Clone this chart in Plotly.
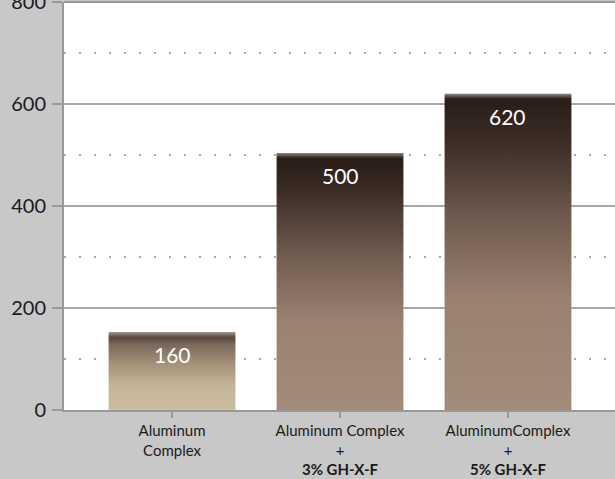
import plotly.graph_objects as go

categories = ["Aluminum<br>Complex",
              "Aluminum Complex<br>+<br><b>3% GH-X-F</b>",
              "AluminumComplex<br>+<br><b>5% GH-X-F</b>"]
values = [153, 504, 620]
labels = ["160", "500", "620"]
y_ticks = [0, 200, 400, 600, 800]

bar_width = 0.755
stripe = 10  # bevel thickness in data units

light_bar = [[0.0, "#cbbd9f"], [0.3, "#c5b699"], [0.6, "#a39179"], [0.85, "#786659"]]
dark_bar = [[0.0, "#a38b7c"], [0.35, "#9a8172"], [0.6, "#705c50"], [0.85, "#3b2c25"]]

fig = go.Figure()
for i, v in enumerate(values):
    base = light_bar if i == 0 else dark_bar
    top = "#5b4a3f" if i == 0 else "#2c1f1a"
    edge = "#a39a94" if i == 0 else "#8e8580"
    f = 1 - stripe / v
    cs = [c for c in base if c[0] < f - 0.02] + [[f - 0.02, top], [f, top], [1.0, edge]]
    x0, x1 = i - bar_width / 2, i + bar_width / 2
    fig.add_trace(go.Scatter(
        x=[x0, x1, x1, x0, x0], y=[0, 0, v, v, 0],
        mode="lines", line=dict(width=0), fill="toself",
        fillgradient=dict(type="vertical", colorscale=cs, start=0, stop=v),
        hoverinfo="skip", showlegend=False))
    fig.add_annotation(x=i, y=v, text=labels[i], showarrow=False,
                       yanchor="top", yshift=-8,
                       font=dict(family="Lato, Open Sans", size=21, color="white"))

fig.update_layout(
    width=615, height=479,
    margin=dict(l=64, r=0, t=2, b=69),
    paper_bgcolor="#c8c8c8", plot_bgcolor="white",
    font=dict(family="Lato, Open Sans", color="#1a1a1a"),
)
fig.update_xaxes(
    range=[-0.643, 2.637], tickvals=[0, 1, 2], ticktext=categories,
    ticks="outside", ticklen=6, tickwidth=2, tickcolor="#999999",
    showline=True, linecolor="#999999", linewidth=2, mirror=False,
    showgrid=False, zeroline=False, automargin=False,
    tickfont=dict(size=15, color="#1a1a1a"),
)
fig.update_yaxes(
    range=[0, 800], tickvals=y_ticks,
    ticks="outside", ticklen=10, tickwidth=1.5, tickcolor="#999999",
    showline=True, linecolor="#999999", linewidth=2, automargin=False,
    ticklabeloverflow="allow", ticklabelstandoff=2,
    showgrid=True, gridcolor="#a8a8a8", gridwidth=1.5, zeroline=False,
    tickfont=dict(size=20, color="#1a1a1a"),
    minor=dict(dtick=200, tick0=100, showgrid=True, gridcolor="#aaaaaa",
               gridwidth=1.5, griddash="1.5px,13.5px"),
)
fig.add_shape(type="line", xref="paper", yref="paper", x0=0, x1=1, y0=1, y1=1,
              line=dict(color="#999999", width=2))

fig.write_html("out.html", config={"displayModeBar": False},
               post_script="document.body.style.margin='0';")
